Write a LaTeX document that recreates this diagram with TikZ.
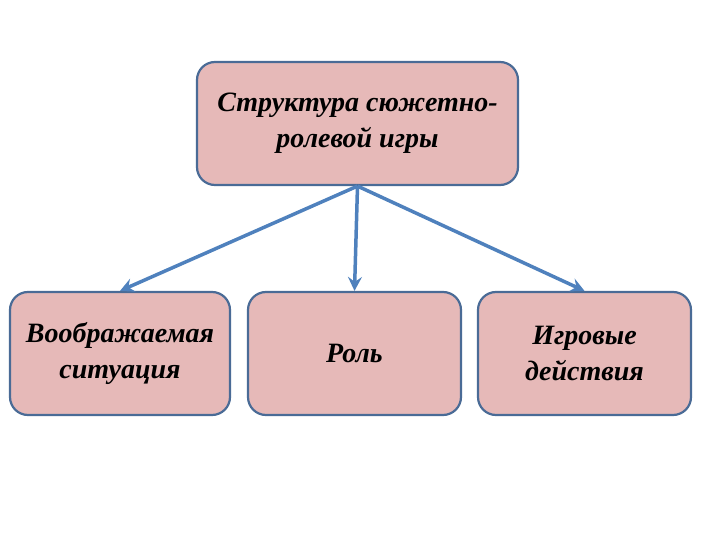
\documentclass[tikz,border=0pt]{standalone}
\usepackage{fontspec}
\setmainfont{Liberation Serif}
\usetikzlibrary{arrows.meta,positioning}
\definecolor{boxfill}{HTML}{E6B9B8}
\definecolor{boxline}{HTML}{4A6B96}
\definecolor{arrline}{HTML}{4F81BD}
\tikzset{
	blok/.style={draw=boxline, line width=2.2pt, fill=boxfill, rounded corners=18pt, align=center,
		font=\fontsize{28}{36}\selectfont\bfseries\itshape, inner sep=0pt, minimum height=123pt},
	strelka/.style={draw=arrline, line width=3.5pt, -{Stealth[length=14pt,width=14pt,inset=5pt]}}
}
\begin{document}
\begin{tikzpicture}[x=1pt,y=-1pt]
	\useasboundingbox (0,0) rectangle (720,540);
	\node[blok, minimum width=321pt] (top) at (357.5,123.5) {Структура сюжетно-\\ролевой игры};
	\node[blok, minimum width=220pt] (sit) at (120,353.5) {Воображаемая\\ситуация};
	\node[blok, minimum width=213pt] (rol) at (354.5,353.5) {Роль};
	\node[blok, minimum width=213pt] (dej) at (584.5,353.5) {Игровые\\действия};
	
	\draw[strelka] (top.south) -- (sit.north);
	\draw[strelka] (top.south) -- (rol.north);
	\draw[strelka] (top.south) -- (dej.north);
\end{tikzpicture}
\end{document}
